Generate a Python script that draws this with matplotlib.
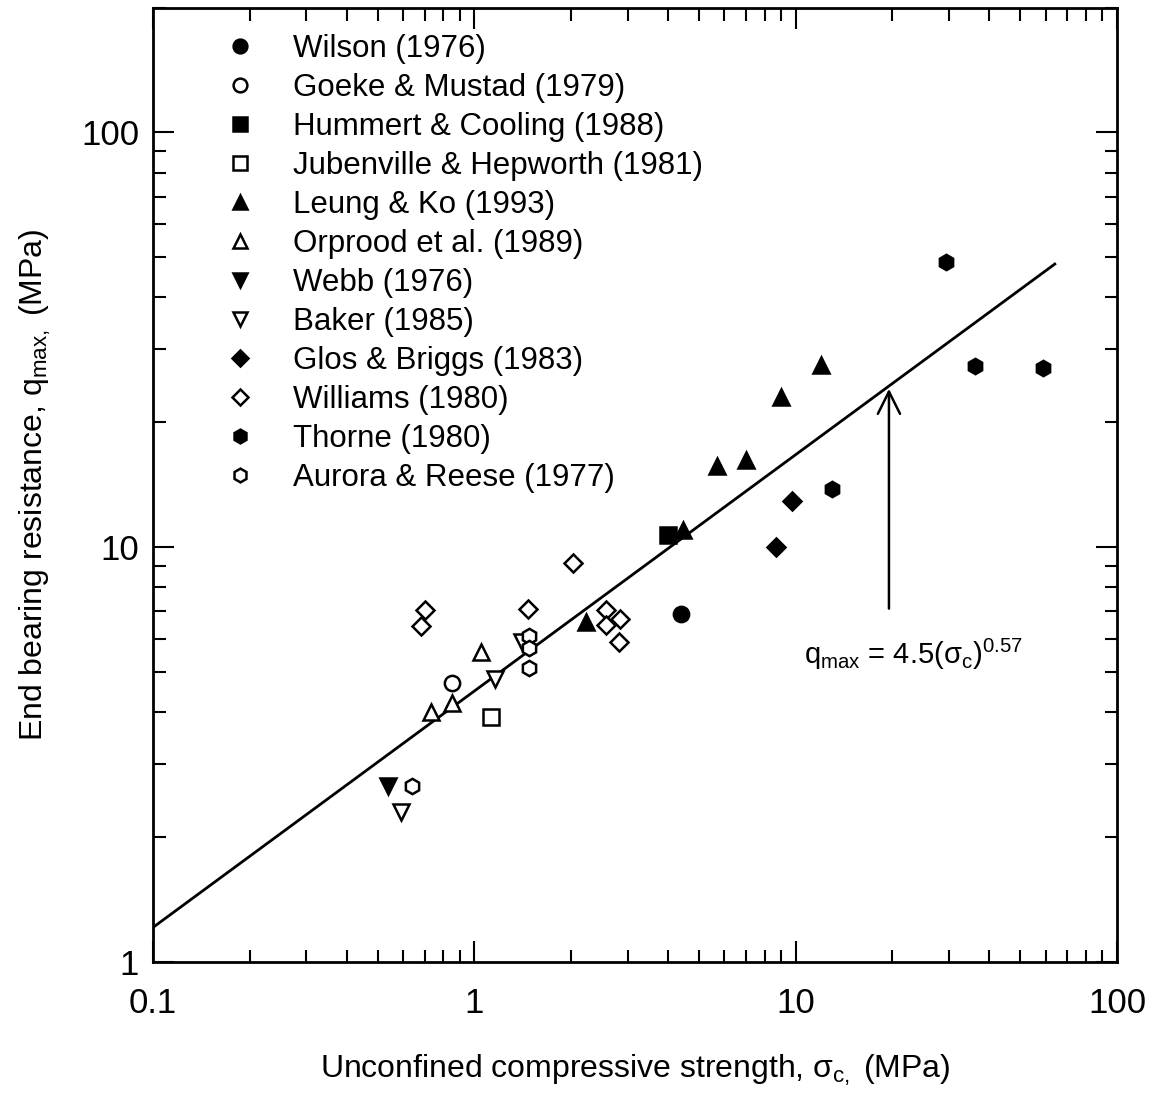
import matplotlib
matplotlib.use("Agg")
import matplotlib.pyplot as plt
import numpy as np

plt.rcParams['font.family'] = ['Liberation Sans', 'DejaVu Sans']
plt.rcParams['mathtext.fontset'] = 'custom'
plt.rcParams['mathtext.rm'] = 'Liberation Sans'
plt.rcParams['mathtext.it'] = 'Liberation Sans'

# data (sigma_c, q_max) in MPa
wilson_x = [4.4]
wilson_y = [6.9]
goeke_x = [0.85]
goeke_y = [4.7]
hummert_x = [4.0]
hummert_y = [10.7]
jubenville_x = [1.13]
jubenville_y = [3.9]
leung_x = [2.22, 4.45, 5.7, 7.0, 9.0, 12.0]
leung_y = [6.6, 11.0, 15.7, 16.2, 23.0, 27.5]
orprood_x = [0.73, 0.85, 1.05]
orprood_y = [4.0, 4.2, 5.6]
webb_x = [0.54]
webb_y = [2.65]
baker_x = [0.59, 1.16, 1.41]
baker_y = [2.3, 4.8, 5.9]
glos_x = [8.7, 9.7]
glos_y = [10.0, 12.9]
williams_x = [0.68, 0.70, 1.47, 2.03, 2.56, 2.56, 2.83, 2.81]
williams_y = [6.45, 7.05, 7.1, 9.15, 7.05, 6.5, 6.7, 5.9]
thorne_x = [13.0, 29.3, 36.0, 59.0]
thorne_y = [13.8, 48.8, 27.4, 27.1]
aurora_x = [0.64, 1.48, 1.48, 1.48]
aurora_y = [2.65, 6.1, 5.7, 5.1]

series = [
    ("Wilson (1976)", wilson_x, wilson_y, 'o', 'k'),
    ("Goeke & Mustad (1979)", goeke_x, goeke_y, 'o', 'w'),
    ("Hummert & Cooling (1988)", hummert_x, hummert_y, 's', 'k'),
    ("Jubenville & Hepworth (1981)", jubenville_x, jubenville_y, 's', 'w'),
    ("Leung & Ko (1993)", leung_x, leung_y, '^', 'k'),
    ("Orprood et al. (1989)", orprood_x, orprood_y, '^', 'w'),
    ("Webb (1976)", webb_x, webb_y, 'v', 'k'),
    ("Baker (1985)", baker_x, baker_y, 'v', 'w'),
    ("Glos & Briggs (1983)", glos_x, glos_y, 'D', 'k'),
    ("Williams (1980)", williams_x, williams_y, 'D', 'w'),
    ("Thorne (1980)", thorne_x, thorne_y, 'h', 'k'),
    ("Aurora & Reese (1977)", aurora_x, aurora_y, 'h', 'w'),
]

fit_a = 4.5
fit_b = 0.57
fit_x = np.array([0.1, 64.0])

fig = plt.figure(figsize=(11.6, 10.93), dpi=100)
ax = fig.add_axes([0.132, 0.12, 0.831, 0.873])

ax.plot(fit_x, fit_a * fit_x ** fit_b, color='k', lw=2, zorder=1)

for label, xs, ys, m, fc in series:
    ms = 11 if m != 'D' else 9.5
    ax.plot(xs, ys, linestyle='none', marker=m, markersize=ms,
            markerfacecolor=fc, markeredgecolor='k', markeredgewidth=1.8,
            label=label, zorder=3)

ax.set_xscale('log')
ax.set_yscale('log')
ax.set_xlim(0.1, 100)
ax.set_ylim(1, 200)

ax.set_xticks([0.1, 1, 10, 100])
ax.set_xticklabels(['0.1', '1', '10', '100'])
ax.set_yticks([1, 10, 100])
ax.set_yticklabels(['1', '10', '100'])

ax.tick_params(which='both', direction='in', top=True, right=True, width=1.5)
ax.tick_params(which='major', length=15, labelsize=25)
ax.tick_params(axis='x', which='major', pad=18)
ax.tick_params(axis='y', which='major', pad=10)
ax.tick_params(which='minor', length=9)
for s in ax.spines.values():
    s.set_linewidth(2)

ax.set_xlabel(r"Unconfined compressive strength, $\sigma_{c,}$ (MPa)", fontsize=23, labelpad=24)
ax.set_ylabel(r"End bearing resistance, q$_{max,}$ (MPa)", fontsize=23, labelpad=20)

# arrow to fit line
ax.annotate("", xy=(19.5, fit_a * 19.5 ** fit_b), xytext=(19.5, 7.0),
            arrowprops=dict(arrowstyle='->', lw=1.8, color='k',
                            mutation_scale=40))
ax.text(10.6, 5.5, r"q$_{max}$ = 4.5($\sigma_c$)$^{0.57}$", fontsize=21,
        ha='left', va='center')

leg = ax.legend(loc='upper left', bbox_to_anchor=(0.045, 0.986), frameon=False,
                fontsize=22.5, handletextpad=0.68, labelspacing=0.29,
                markerscale=0.9, borderaxespad=0)

fig.savefig("out.png", dpi=100)
